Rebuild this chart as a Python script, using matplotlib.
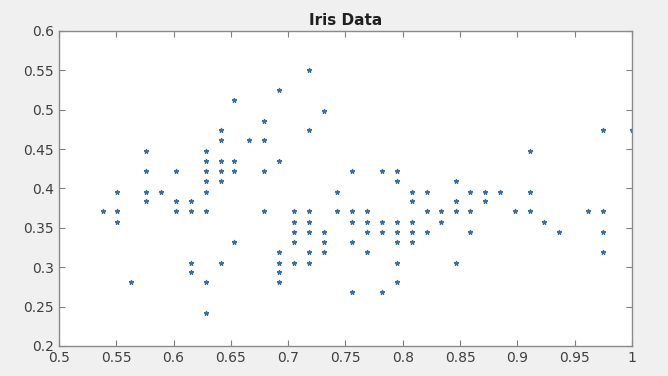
import matplotlib
matplotlib.use("Agg")
import matplotlib.pyplot as plt

# points, grouped by column (x value)
x = [0.538,
     0.551, 0.551, 0.551,
     0.563,
     0.576, 0.576, 0.576, 0.576,
     0.589,
     0.602, 0.602, 0.602,
     0.615, 0.615, 0.615, 0.615,
     0.628, 0.628, 0.628, 0.628, 0.628, 0.628, 0.628, 0.628,
     0.641, 0.641, 0.641, 0.641, 0.641, 0.641,
     0.653, 0.653, 0.653, 0.653,
     0.666,
     0.679, 0.679, 0.679, 0.679,
     0.692, 0.692, 0.692, 0.692, 0.692, 0.692,
     0.705, 0.705, 0.705, 0.705, 0.705,
     0.718, 0.718, 0.718, 0.718, 0.718, 0.718, 0.718,
     0.731, 0.731, 0.731, 0.731,
     0.743, 0.743,
     0.756, 0.756, 0.756, 0.756, 0.756,
     0.769, 0.769, 0.769, 0.769,
     0.782, 0.782, 0.782, 0.782,
     0.795, 0.795, 0.795, 0.795, 0.795, 0.795, 0.795,
     0.808, 0.808, 0.808, 0.808, 0.808,
     0.821, 0.821, 0.821,
     0.833, 0.833,
     0.846, 0.846, 0.846, 0.846,
     0.859, 0.859, 0.859,
     0.872, 0.872,
     0.885,
     0.898,
     0.911, 0.911, 0.911,
     0.923,
     0.936,
     0.962,
     0.975, 0.975, 0.975, 0.975,
     1.000]

y = [0.371,
     0.358, 0.371, 0.396,
     0.281,
     0.384, 0.422, 0.448, 0.396,
     0.396,
     0.422, 0.371, 0.384,
     0.371, 0.384, 0.294, 0.306,
     0.448, 0.422, 0.371, 0.396, 0.435, 0.409, 0.242, 0.281,
     0.435, 0.474, 0.461, 0.409, 0.422, 0.306,
     0.435, 0.422, 0.512, 0.332,
     0.461,
     0.486, 0.461, 0.422, 0.371,
     0.525, 0.435, 0.281, 0.294, 0.306, 0.319,
     0.358, 0.371, 0.306, 0.332, 0.345,
     0.551, 0.474, 0.345, 0.319, 0.371, 0.358, 0.306,
     0.499, 0.332, 0.319, 0.345,
     0.371, 0.396,
     0.268, 0.358, 0.332, 0.422, 0.371,
     0.358, 0.345, 0.371, 0.319,
     0.268, 0.358, 0.345, 0.422,
     0.409, 0.306, 0.281, 0.358, 0.332, 0.345, 0.422,
     0.396, 0.358, 0.332, 0.345, 0.384,
     0.345, 0.371, 0.396,
     0.358, 0.371,
     0.384, 0.371, 0.306, 0.409,
     0.345, 0.371, 0.396,
     0.384, 0.396,
     0.396,
     0.371,
     0.448, 0.396, 0.371,
     0.358,
     0.345,
     0.371,
     0.474, 0.319, 0.345, 0.371,
     0.474]

x_ticks = [0.5, 0.55, 0.6, 0.65, 0.7, 0.75, 0.8, 0.85, 0.9, 0.95, 1]
x_labels = ['0.5', '0.55', '0.6', '0.65', '0.7', '0.75', '0.8', '0.85', '0.9', '0.95', '1']
y_ticks = [0.2, 0.25, 0.3, 0.35, 0.4, 0.45, 0.5, 0.55, 0.6]
y_labels = ['0.2', '0.25', '0.3', '0.35', '0.4', '0.45', '0.5', '0.55', '0.6']

fig = plt.figure(figsize=(6.68, 3.76), dpi=100, facecolor='#f0f0f0')
ax = fig.add_axes([0.0883, 0.0798, 0.8578, 0.8378])

ax.plot(x, y, linestyle='none', marker='*', markersize=3.5,
        markeredgewidth=0.8, color='#3d6e99')

ax.set_xlim(0.5, 1)
ax.set_ylim(0.2, 0.6)
ax.set_xticks(x_ticks)
ax.set_xticklabels(x_labels)
ax.set_yticks(y_ticks)
ax.set_yticklabels(y_labels)

ax.tick_params(direction='in', length=4, width=0.8, colors='#7f7f7f',
               labelcolor='#404040', labelsize=10, top=True, right=True)
for s in ax.spines.values():
    s.set_color('#8a8a8a')
    s.set_linewidth(1.0)

ax.set_title('Iris Data', fontsize=11, fontweight='bold', color='#202020', pad=4)

plt.savefig('out.png', dpi=100, facecolor=fig.get_facecolor())
